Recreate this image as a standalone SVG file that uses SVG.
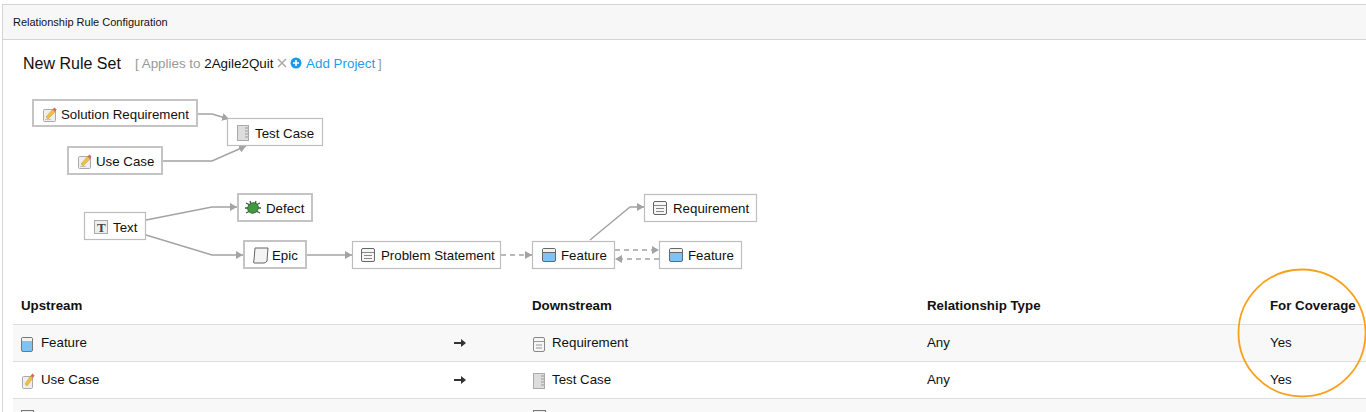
<svg xmlns="http://www.w3.org/2000/svg" width="1366" height="412" viewBox="0 0 1366 412">
<style>
text{font-family:"Liberation Sans",Arial,sans-serif;fill:#111}
.n{font-size:13.3px}
.b{font-weight:bold;font-size:13.3px}
.t{font-size:13.3px}
.box{fill:#fff;stroke:#bdbdbd;stroke-width:1.2}
.box2{fill:#fff;stroke:#c4c4c4;stroke-width:2}
.c{fill:none;stroke:#a3a3a3;stroke-width:1.4}
.d{stroke-dasharray:5 4}
.ln{stroke:#dedede;stroke-width:1}
</style>
<defs>
<marker id="a" markerUnits="userSpaceOnUse" markerWidth="8" markerHeight="8" refX="7" refY="4" orient="auto"><path d="M0 0L7 4L0 8z" fill="#a3a3a3"/></marker>
<g id="i-feature"><rect x="0.5" y="0.5" width="13" height="13" rx="1.500" fill="#7cc4f5" stroke="#666"/><path d="M1 1H13V4H1z" fill="#f2f2f2"/><path d="M1 4.500H13" stroke="#666"/></g>
<g id="i-feature-s"><rect x="0.5" y="0.5" width="11" height="14" rx="1.500" fill="#7cc4f5" stroke="#777"/><path d="M1 1H11V4H1z" fill="#f2f2f2"/></g>
<g id="i-req"><rect x="0.5" y="0.5" width="13" height="13" rx="1.500" fill="#f6f6f6" stroke="#666"/><path d="M1 4.500H13M3 7.500H11M3 10.500H11" stroke="#888"/></g>
<g id="i-req-s"><rect x="0.5" y="0.5" width="11" height="14" rx="1.500" fill="#f6f6f6" stroke="#888"/><path d="M1 4.500H11M3 8H9M3 11H9" stroke="#999"/></g>
<g id="i-note"><rect x="0.5" y="2.500" width="12" height="12" rx="1" fill="#eee" stroke="#aaa"/><path d="M3 10L9.500 2.500L12 5L5 12z" fill="#f0c040" stroke="#c8962a" stroke-width=".5"/><path d="M9.500 2.500L11.500 0.500L13.500 2.500L12 5z" fill="#d66"/><path d="M2.500 12.500H8" stroke="#999" stroke-dasharray="1 1"/></g>
<g id="i-note-s"><rect x="0.5" y="3.500" width="10" height="12" rx="1" fill="#eee" stroke="#aaa"/><path d="M3 11L8.500 3L11 5L5 13z" fill="#f0c040" stroke="#c8962a" stroke-width=".5"/><path d="M8.500 3L10.500 0.500L12.500 2.500L11 5z" fill="#d66"/></g>
<g id="i-tc"><rect x="0.5" y="0.5" width="11" height="15" fill="#ddd" stroke="#aaa"/><path d="M8 3H11M8 6H11M8 9H11M8 12H11" stroke="#999"/></g>
</defs>
<rect width="1366" height="412" fill="#fff"/>
<rect x="2.500" y="4.500" width="1370" height="420" fill="none" stroke="#d4d4d4"/>
<rect x="3" y="5" width="1363" height="34" fill="#f7f7f7"/>
<path d="M3 39.500H1366" stroke="#d4d4d4"/>
<text x="13" y="26" font-size="11">Relationship Rule Configuration</text>
<text x="23" y="69" font-size="16">New Rule Set</text>
<text x="135" y="68" font-size="13.400" style="fill:#999">[ Applies to <tspan style="fill:#111">2Agile2Quit</tspan></text>
<path d="M278 59L286 67M286 59L278 67" stroke="#aaa" stroke-width="1.500"/>
<circle cx="296" cy="63" r="5.500" fill="#1a9be8"/><path d="M293 63H299M296 60V66" stroke="#fff" stroke-width="1.600"/>
<text x="306" y="68" font-size="13.400" style="fill:#1aa0ee">Add Project</text>
<text x="378" y="68" font-size="13.400" style="fill:#999">]</text>

<g id="connectors">
<path class="c" marker-end="url(#a)" d="M198 114H212L229 119"/>
<path class="c" marker-end="url(#a)" d="M163 161H212L246 146"/>
<path class="c" marker-end="url(#a)" d="M146 220L212 207H237"/>
<path class="c" marker-end="url(#a)" d="M146 235L212 255H243"/>
<path class="c" marker-end="url(#a)" d="M306 255H352"/>
<path class="c d" marker-end="url(#a)" d="M501 255H532"/>
<path class="c" marker-end="url(#a)" d="M590 240L630 207H644"/>
<path class="c d" marker-end="url(#a)" d="M615 250H659"/>
<path class="c d" marker-end="url(#a)" d="M659 259H615"/>
</g>

<g id="n-solution"><rect class="box2" x="33" y="100" width="164" height="26"/><use href="#i-note" x="43" y="107"/><text class="n" x="61" y="119">Solution Requirement</text></g>
<g id="n-testcase"><rect class="box" x="227.500" y="118.500" width="95" height="27"/><use href="#i-tc" x="237" y="125"/><text class="n" x="255" y="138">Test Case</text></g>
<g id="n-usecase"><rect class="box2" x="68" y="147" width="94" height="27"/><use href="#i-note" x="78" y="154"/><text class="n" x="96" y="166">Use Case</text></g>
<g id="n-text"><rect class="box" x="84.500" y="212.500" width="61" height="27"/><rect x="94.500" y="220.500" width="13" height="13" fill="#eee" stroke="#aaa"/><text x="97" y="232" font-size="13" font-weight="bold" style="font-family:'Liberation Serif',serif;fill:#444">T</text><text class="n" x="113" y="232">Text</text></g>
<g id="n-defect"><rect class="box2" x="238" y="194" width="74" height="27"/><path d="M246 203L250 205M260 203L256 205M245 208H248M261 208H258M246 213L250 211M260 213L256 211M250 201L251 204M256 201L255 204" stroke="#3b5a3b" stroke-width="1.300"/><ellipse cx="253" cy="208" rx="5.500" ry="5" transform="rotate(-40 253 208)" fill="#3e9a3a" stroke="#3b6a3b"/><text class="n" x="266" y="213">Defect</text></g>
<g id="n-epic"><rect class="box2" x="244" y="241" width="62" height="27"/><path d="M255 248H268L267 261Q266 263 264 263H254Q253 263 254 260z" fill="#f4f4f4" stroke="#666"/><text class="n" x="272" y="260">Epic</text></g>
<g id="n-problem"><rect class="box" x="352.500" y="241.500" width="148" height="27"/><use href="#i-req" x="361" y="248"/><text class="n" x="381" y="260">Problem Statement</text></g>
<g id="n-feature1"><rect class="box" x="532.500" y="241.500" width="82" height="27"/><use href="#i-feature" x="542" y="248"/><text class="n" x="561" y="260">Feature</text></g>
<g id="n-feature2"><rect class="box" x="659.500" y="241.500" width="82" height="27"/><use href="#i-feature" x="669" y="248"/><text class="n" x="688" y="260">Feature</text></g>
<g id="n-requirement"><rect class="box" x="644.500" y="194.500" width="112" height="27"/><use href="#i-req" x="653" y="201"/><text class="n" x="673" y="213">Requirement</text></g>

<rect x="13" y="325" width="1353" height="36" fill="#f8f8f8"/>
<rect x="13" y="399" width="1353" height="13" fill="#f8f8f8"/>
<path class="ln" d="M13 324.500H1366M13 361.500H1366M13 398.500H1366"/>
<text class="b" x="21" y="310">Upstream</text>
<text class="b" x="532" y="310">Downstream</text>
<text class="b" x="927" y="310">Relationship Type</text>
<text class="b" x="1270" y="310">For Coverage</text>

<use href="#i-feature-s" x="21" y="337"/><text class="t" x="41" y="347">Feature</text>
<path d="M454 342H461V339L466 343L461 347V344H454z" fill="#333"/>
<use href="#i-req-s" x="533" y="337"/><text class="t" x="552" y="347">Requirement</text>
<text class="t" x="927" y="347">Any</text><text class="t" x="1270" y="347">Yes</text>

<use href="#i-note-s" x="22" y="373"/><text class="t" x="41" y="384">Use Case</text>
<path d="M454 379H461V376L466 380L461 384V381H454z" fill="#333"/>
<use href="#i-tc" x="533" y="373"/><text class="t" x="552" y="384">Test Case</text>
<text class="t" x="927" y="384">Any</text><text class="t" x="1270" y="384">Yes</text>

<rect x="21.500" y="410.500" width="12" height="12" fill="#eee" stroke="#777"/><text class="t" x="41" y="420.500">Epic</text>
<rect x="533.500" y="410.500" width="12" height="12" fill="#eee" stroke="#777"/><text class="t" x="552" y="420.500">Problem Statement</text>
<text class="t" x="927" y="420.500">Any</text><text class="t" x="1270" y="420.500">Yes</text>

<circle cx="1302" cy="333" r="63.500" fill="none" stroke="#f8a11c" stroke-width="1.800"/>
</svg>
